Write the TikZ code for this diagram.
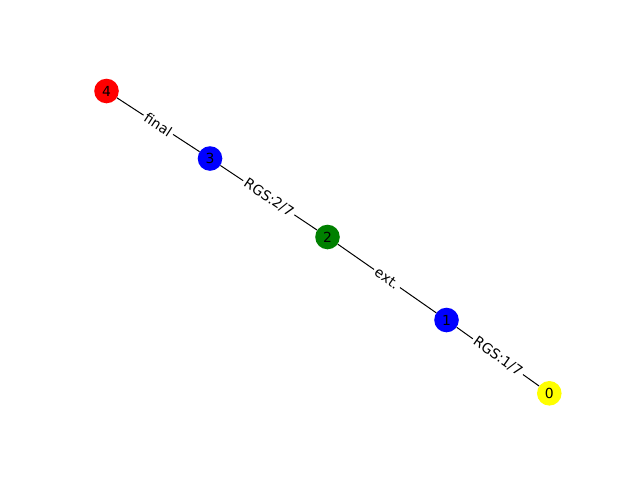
\documentclass[tikz,border=0pt]{standalone}
\usepackage{fontspec}
\setmainfont{DejaVu Sans}
\begin{document}
\begin{tikzpicture}[x=1pt,y=-1pt,
  vtx/.style={circle,minimum size=24.6pt,inner sep=0pt,font=\fontsize{13.9}{16}\selectfont},
  edge/.style={draw=black,line width=1pt},
  elabel/.style={sloped,fill=white,inner sep=2.5pt,font=\fontsize{13.9}{16}\selectfont}]
\useasboundingbox (0,0) rectangle (640,480);
\node[vtx,fill={rgb,255:red,255;green,0;blue,0}] (n4) at (106.5,91) {4};
\node[vtx,fill={rgb,255:red,0;green,0;blue,255}] (n3) at (210,158.5) {3};
\node[vtx,fill={rgb,255:red,0;green,128;blue,0}] (n2) at (327.5,237) {2};
\node[vtx,fill={rgb,255:red,0;green,0;blue,255}] (n1) at (446.5,320) {1};
\node[vtx,fill={rgb,255:red,255;green,255;blue,0}] (n0) at (549.3,393.3) {0};
\begin{scope}[on background layer/.try]
\end{scope}
\draw[edge] (n4) -- node[elabel] {final} (n3);
\draw[edge] (n3) -- node[elabel] {RGS:2/7} (n2);
\draw[edge] (n2) -- node[elabel] {ext.} (n1);
\draw[edge] (n1) -- node[elabel] {RGS:1/7} (n0);
\end{tikzpicture}
\end{document}
